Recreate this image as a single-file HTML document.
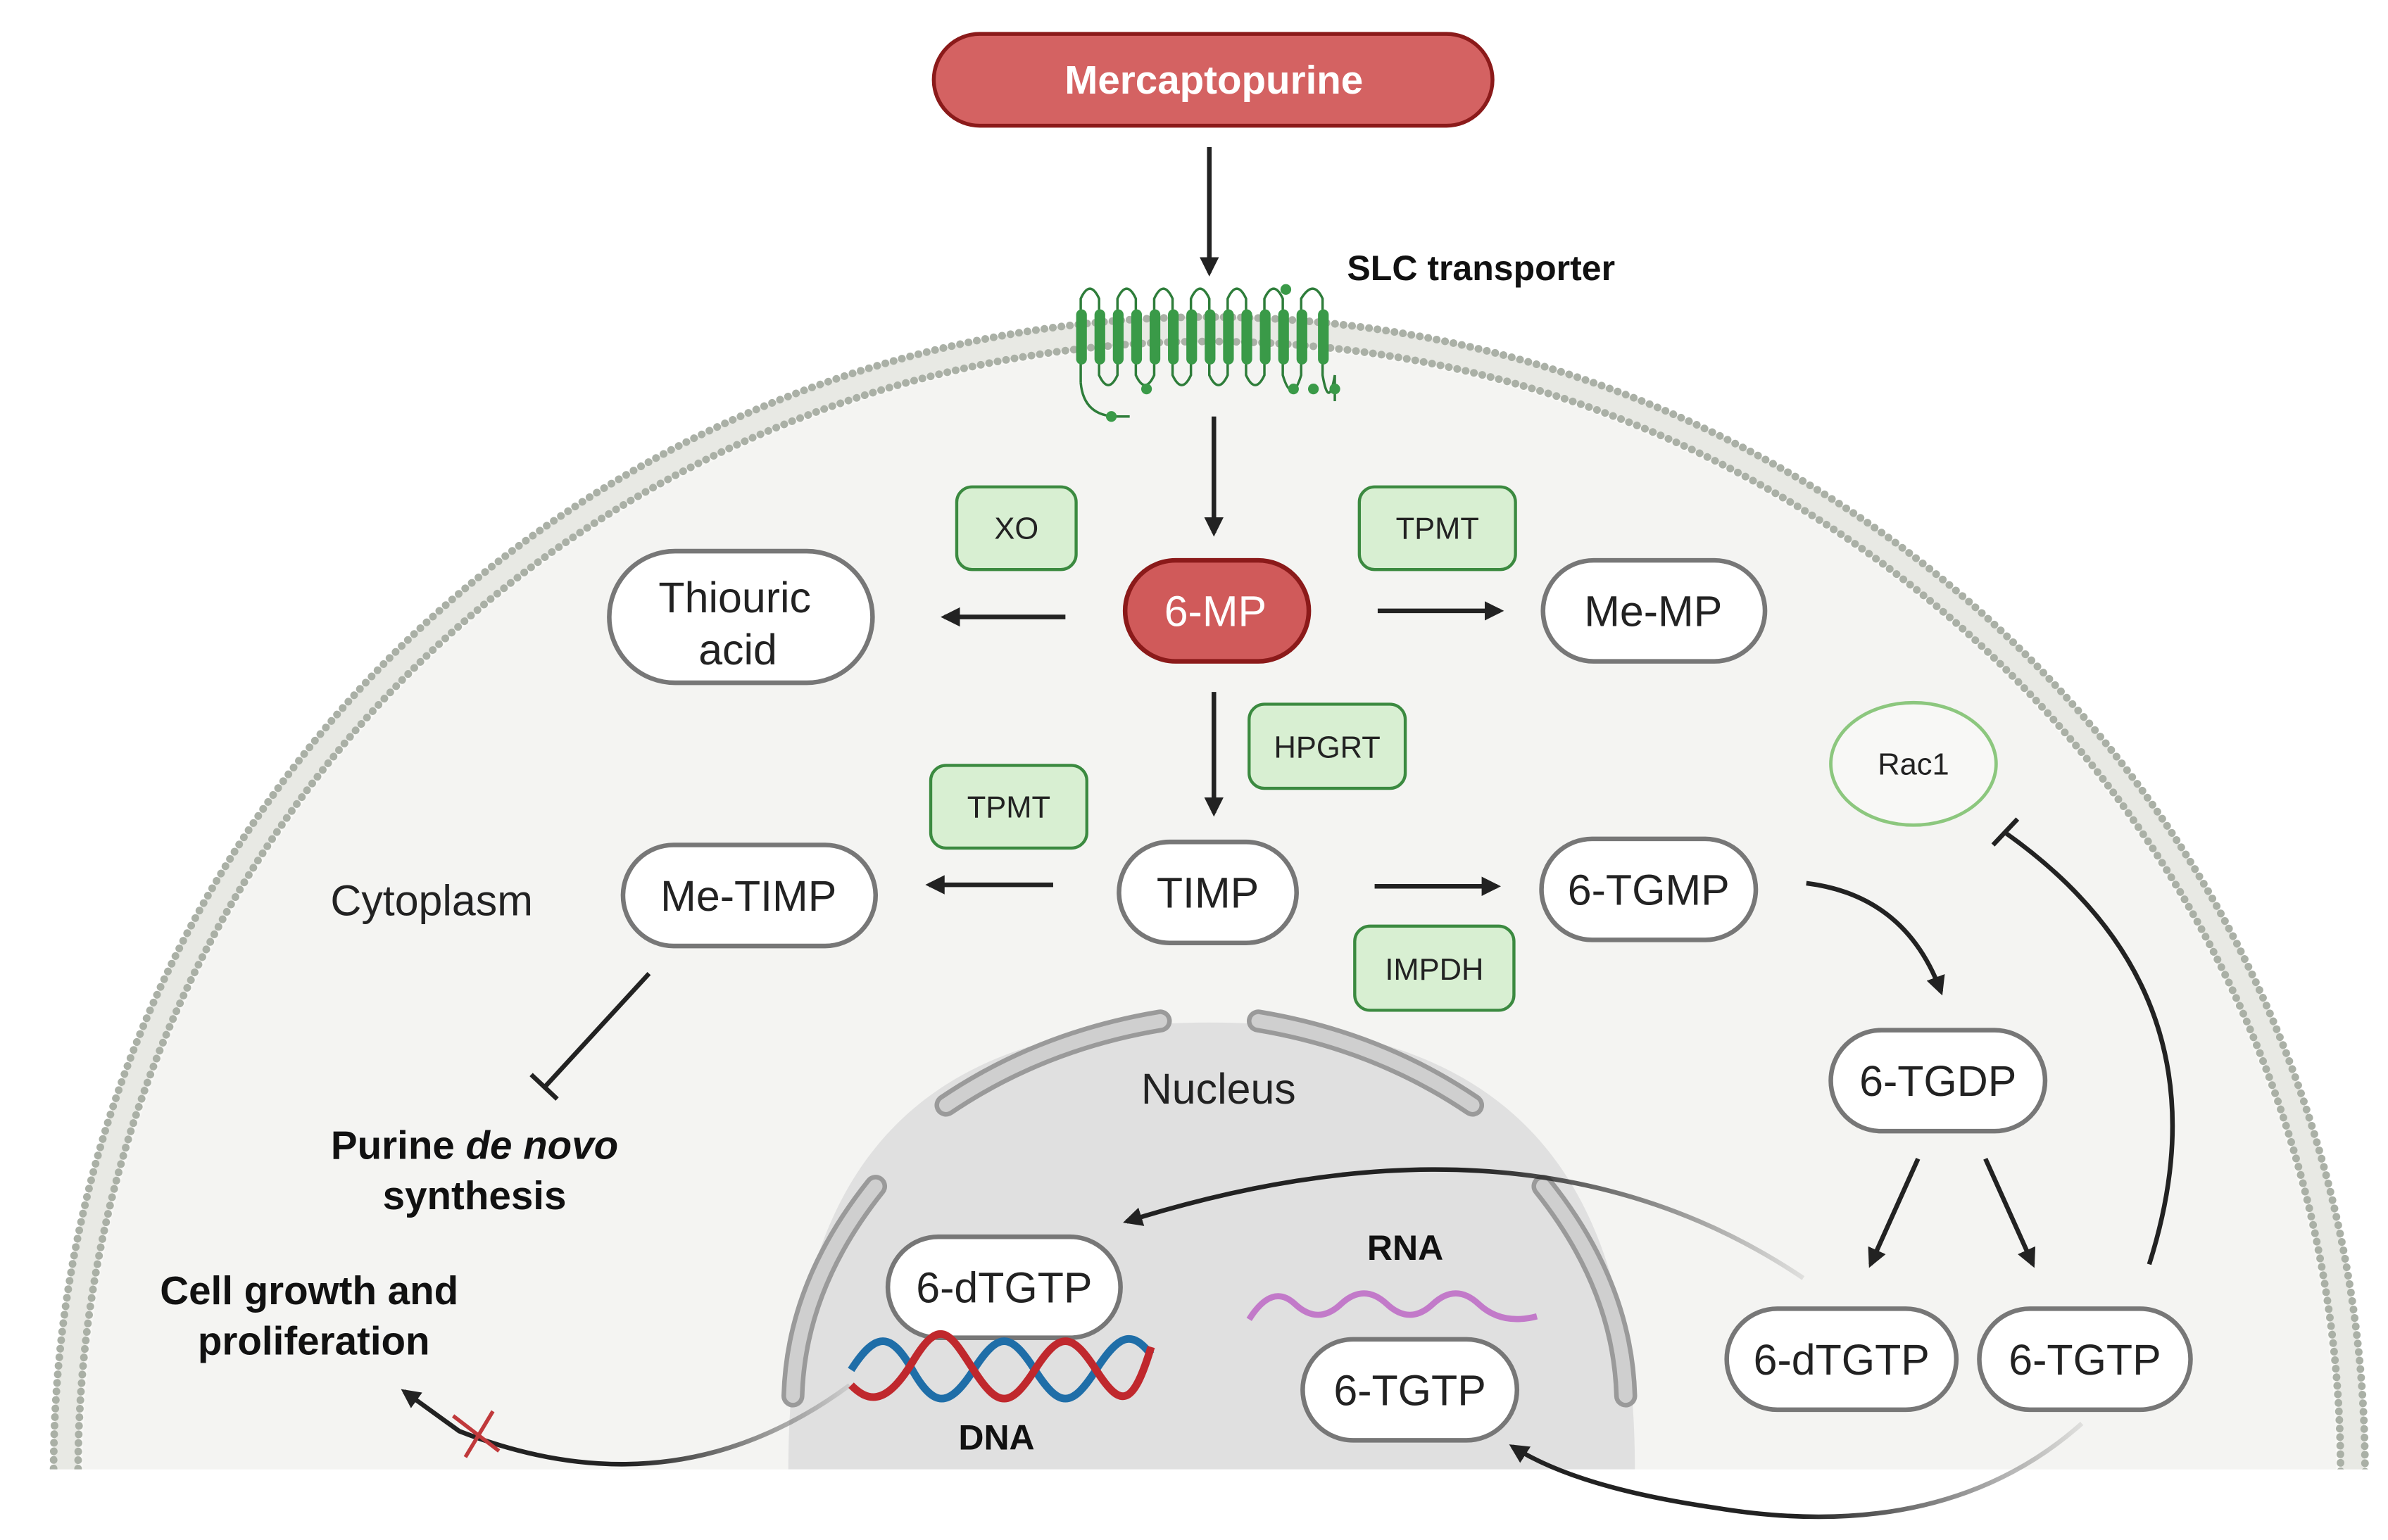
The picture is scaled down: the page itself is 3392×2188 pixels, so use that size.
<!DOCTYPE html>
<html><head><meta charset="utf-8"><style>
html,body{margin:0;padding:0;background:#fff;width:3392px;height:2188px;overflow:hidden;}
svg{display:block;}
text{font-family:"Liberation Sans",sans-serif;}
.b{font-family:"Liberation Sans Narrow","Liberation Sans",sans-serif;font-weight:bold;}
</style></head><body>
<svg width="3392" height="2188" viewBox="0 0 1560 1006" xmlns="http://www.w3.org/2000/svg">
<defs>
<marker id="ah" viewBox="0 0 10 10" refX="8" refY="5" markerWidth="4.2" markerHeight="4.2" orient="auto"><path d="M0,0 L10,5 L0,10 z" fill="#222"/></marker>
<clipPath id="cut"><rect x="0" y="0" width="1560" height="960"/></clipPath>
<linearGradient id="g1" x1="1" y1="0" x2="0" y2="0"><stop offset="0" stop-color="#222" stop-opacity="0.1"/><stop offset="0.5" stop-color="#222"/></linearGradient>
<linearGradient id="g2" x1="1" y1="0" x2="0" y2="0"><stop offset="0" stop-color="#222" stop-opacity="0.1"/><stop offset="0.5" stop-color="#222"/></linearGradient>
<linearGradient id="g3" x1="1" y1="0" x2="0" y2="0"><stop offset="0" stop-color="#222" stop-opacity="0.1"/><stop offset="0.5" stop-color="#222"/></linearGradient>
</defs>
<g clip-path="url(#cut)">
<circle cx="790" cy="962" r="755" fill="#f8f8f6"/>
<circle cx="790" cy="962" r="747" fill="none" stroke="#e8e9e4" stroke-width="16"/>
<circle cx="790" cy="962" r="755" fill="none" stroke="#aab0a6" stroke-width="5" stroke-dasharray="0.1 5.5" stroke-linecap="round"/>
<circle cx="790" cy="962" r="739" fill="none" stroke="#aab0a6" stroke-width="5" stroke-dasharray="0.1 5.5" stroke-linecap="round"/>
<circle cx="790" cy="962" r="736" fill="#f4f4f2"/>
<path d="M515,960 C515,760 600,668 790,668 C980,668 1068,760 1068,960 Z" fill="#e0e0e0"/>
</g>
<g fill="none" stroke-linecap="round">
<path d="M618,722 Q680,680 758,667" stroke="#9a9a9a" stroke-width="15"/><path d="M618,722 Q680,680 758,667" stroke="#cfcfcf" stroke-width="9"/>
<path d="M822,667 Q900,680 962,722" stroke="#9a9a9a" stroke-width="15"/><path d="M822,667 Q900,680 962,722" stroke="#cfcfcf" stroke-width="9"/>
<path d="M572,775 Q520,840 518,912" stroke="#9a9a9a" stroke-width="15"/><path d="M572,775 Q520,840 518,912" stroke="#cfcfcf" stroke-width="9"/>
<path d="M1008,775 Q1060,840 1062,912" stroke="#9a9a9a" stroke-width="15"/><path d="M1008,775 Q1060,840 1062,912" stroke="#cfcfcf" stroke-width="9"/>
</g>
<rect x="610" y="22" width="365" height="60" rx="30" fill="#d46262" stroke="#8b1a1a" stroke-width="2.5"/>
<text x="793" y="61" text-anchor="middle" font-size="26" fill="#fff" class="b">Mercaptopurine</text>
<line x1="790" y1="96" x2="790" y2="178" stroke="#222" stroke-width="3" marker-end="url(#ah)"/>
<text x="880" y="183" font-size="23" class="b" fill="#111">SLC transporter</text>
<g stroke="#2e7d3a" fill="none" stroke-width="1.6">
<path d="M706,250 L706,195 Q712,182 718,195 L718,245 Q724,258 730,245 L730,195 Q736,182 742,195 L742,245 Q748,258 754,245 L754,195 Q760,182 766,195 L766,245 Q772,258 778,245 L778,195 Q784,182 790,195 L790,245 Q796,258 802,245 L802,195 Q808,182 814,195 L814,245 Q820,258 826,245 L826,195 Q832,182 838,195 L838,245 Q844,265 850,245 L850,195 Q858,182 864,195 L864,245 Q868,268 872,245 L872,262"/>
<path d="M706,250 Q708,272 730,272 L738,272"/>
</g>
<g fill="#3a9a48">
<rect x="703" y="202" width="7" height="36" rx="3.5"/><rect x="715" y="202" width="7" height="36" rx="3.5"/><rect x="727" y="202" width="7" height="36" rx="3.5"/><rect x="739" y="202" width="7" height="36" rx="3.5"/><rect x="751" y="202" width="7" height="36" rx="3.5"/><rect x="763" y="202" width="7" height="36" rx="3.5"/><rect x="775" y="202" width="7" height="36" rx="3.5"/><rect x="787" y="202" width="7" height="36" rx="3.5"/><rect x="799" y="202" width="7" height="36" rx="3.5"/><rect x="811" y="202" width="7" height="36" rx="3.5"/><rect x="823" y="202" width="7" height="36" rx="3.5"/><rect x="835" y="202" width="7" height="36" rx="3.5"/><rect x="847" y="202" width="7" height="36" rx="3.5"/><rect x="861" y="202" width="7" height="36" rx="3.5"/>
<circle cx="840" cy="189" r="3.5"/><circle cx="749" cy="254" r="3.5"/><circle cx="726" cy="272" r="3.5"/><circle cx="845" cy="254" r="3.5"/><circle cx="858" cy="254" r="3.5"/><circle cx="872" cy="254" r="3.5"/>
</g>
<line x1="793" y1="272" x2="793" y2="348" stroke="#222" stroke-width="3" marker-end="url(#ah)"/>
<g fill="#d8efd2" stroke="#3b8a40" stroke-width="2">
<rect x="625" y="318" width="78" height="54" rx="10"/>
<rect x="888" y="318" width="102" height="54" rx="10"/>
<rect x="816" y="460" width="102" height="55" rx="10"/>
<rect x="608" y="500" width="102" height="54" rx="10"/>
<rect x="885" y="605" width="104" height="55" rx="10"/>
</g>
<g font-size="20" text-anchor="middle" fill="#222">
<text x="664" y="352">XO</text>
<text x="939" y="352">TPMT</text>
<text x="867" y="495">HPGRT</text>
<text x="659" y="534">TPMT</text>
<text x="937" y="640">IMPDH</text>
</g>
<ellipse cx="1250" cy="499" rx="54" ry="40" fill="#f8f8f6" stroke="#8cc77e" stroke-width="2.2"/>
<text x="1250" y="506" font-size="20" text-anchor="middle" fill="#222">Rac1</text>
<g fill="#fff" stroke="#777" stroke-width="3">
<rect x="398" y="360" width="172" height="86" rx="43"/>
<rect x="1008" y="366" width="145" height="66" rx="33"/>
<rect x="407" y="552" width="165" height="66" rx="33"/>
<rect x="731" y="550" width="116" height="66" rx="33"/>
<rect x="1007" y="548" width="140" height="66" rx="33"/>
<rect x="1196" y="673" width="140" height="66" rx="33"/>
<rect x="1128" y="855" width="150" height="66" rx="33"/>
<rect x="1293" y="855" width="138" height="66" rx="33"/>
<rect x="580" y="808" width="152" height="66" rx="33"/>
<rect x="851" y="875" width="140" height="66" rx="33"/>
</g>
<rect x="735" y="366" width="120" height="66" rx="33" fill="#d05a5a" stroke="#8b1a1a" stroke-width="3"/>
<g font-size="28" text-anchor="middle" fill="#222">
<text x="794" y="409" fill="#fff">6-MP</text>
<text x="480" y="400">Thiouric</text>
<text x="482" y="434">acid</text>
<text x="1080" y="409">Me-MP</text>
<text x="489" y="595">Me-TIMP</text>
<text x="789" y="593">TIMP</text>
<text x="1077" y="591">6-TGMP</text>
<text x="1266" y="716">6-TGDP</text>
<text x="1203" y="898">6-dTGTP</text>
<text x="1362" y="898">6-TGTP</text>
<text x="656" y="851">6-dTGTP</text>
<text x="921" y="918">6-TGTP</text>
<text x="282" y="598">Cytoplasm</text>
<text x="796" y="721">Nucleus</text>
</g>
<g stroke="#222" stroke-width="3" fill="none">
<line x1="696" y1="403" x2="617" y2="403" marker-end="url(#ah)"/>
<line x1="900" y1="399" x2="980" y2="399" marker-end="url(#ah)"/>
<line x1="793" y1="452" x2="793" y2="531" marker-end="url(#ah)"/>
<line x1="688" y1="578" x2="607" y2="578" marker-end="url(#ah)"/>
<line x1="898" y1="579" x2="978" y2="579" marker-end="url(#ah)"/>
<path d="M1180,577 Q1245,585 1268,648" marker-end="url(#ah)"/>
<line x1="1253" y1="757" x2="1222" y2="826" marker-end="url(#ah)"/>
<line x1="1297" y1="757" x2="1328" y2="826" marker-end="url(#ah)"/>
<path d="M1404,826 Q1460,650 1310,544"/>
<line x1="1302" y1="552" x2="1318" y2="535"/>
<line x1="424" y1="636" x2="356" y2="710"/>
<line x1="347" y1="702" x2="364" y2="718"/>
<path d="M1178,835 Q1000,715 736,798" stroke="url(#g1)" marker-end="url(#ah)"/>
<path d="M1360,930 Q1270,1010 1120,985 Q1030,972 988,945" stroke="url(#g2)" marker-end="url(#ah)"/>
<path d="M555,905 Q440,990 300,935 L264,909" stroke="url(#g3)" marker-end="url(#ah)"/>
</g>
<g stroke="#c0393b" stroke-width="2.5"><line x1="296" y1="925" x2="326" y2="948"/><line x1="322" y1="922" x2="304" y2="952"/></g>
<g fill="none" stroke-width="5">
<path d="M556,895 C572,870 582,870 596,895 S620,920 636,895 S660,870 676,895 S700,920 716,895 S740,870 752,885" stroke="#1f6ea8"/>
<path d="M556,905 C566,915 578,920 596,890 S620,870 636,895 S660,920 676,895 S700,870 716,895 S740,920 752,880" stroke="#c0282d"/>
</g>
<path d="M816,862 Q831,838 846,852 T876,852 T906,852 T936,852 T966,852 T1004,860" fill="none" stroke="#c27ac9" stroke-width="4"/>
<text x="918" y="823" font-size="23" text-anchor="middle" class="b" fill="#111">RNA</text>
<text x="651" y="947" font-size="23" text-anchor="middle" class="b" fill="#111">DNA</text>
<g font-size="26" text-anchor="middle" class="b" fill="#111">
<text x="310" y="757">Purine <tspan font-style="italic">de novo</tspan></text>
<text x="310" y="790">synthesis</text>
<text x="202" y="852">Cell growth and</text>
<text x="205" y="885">proliferation</text>
</g>
</svg>
</body></html>
